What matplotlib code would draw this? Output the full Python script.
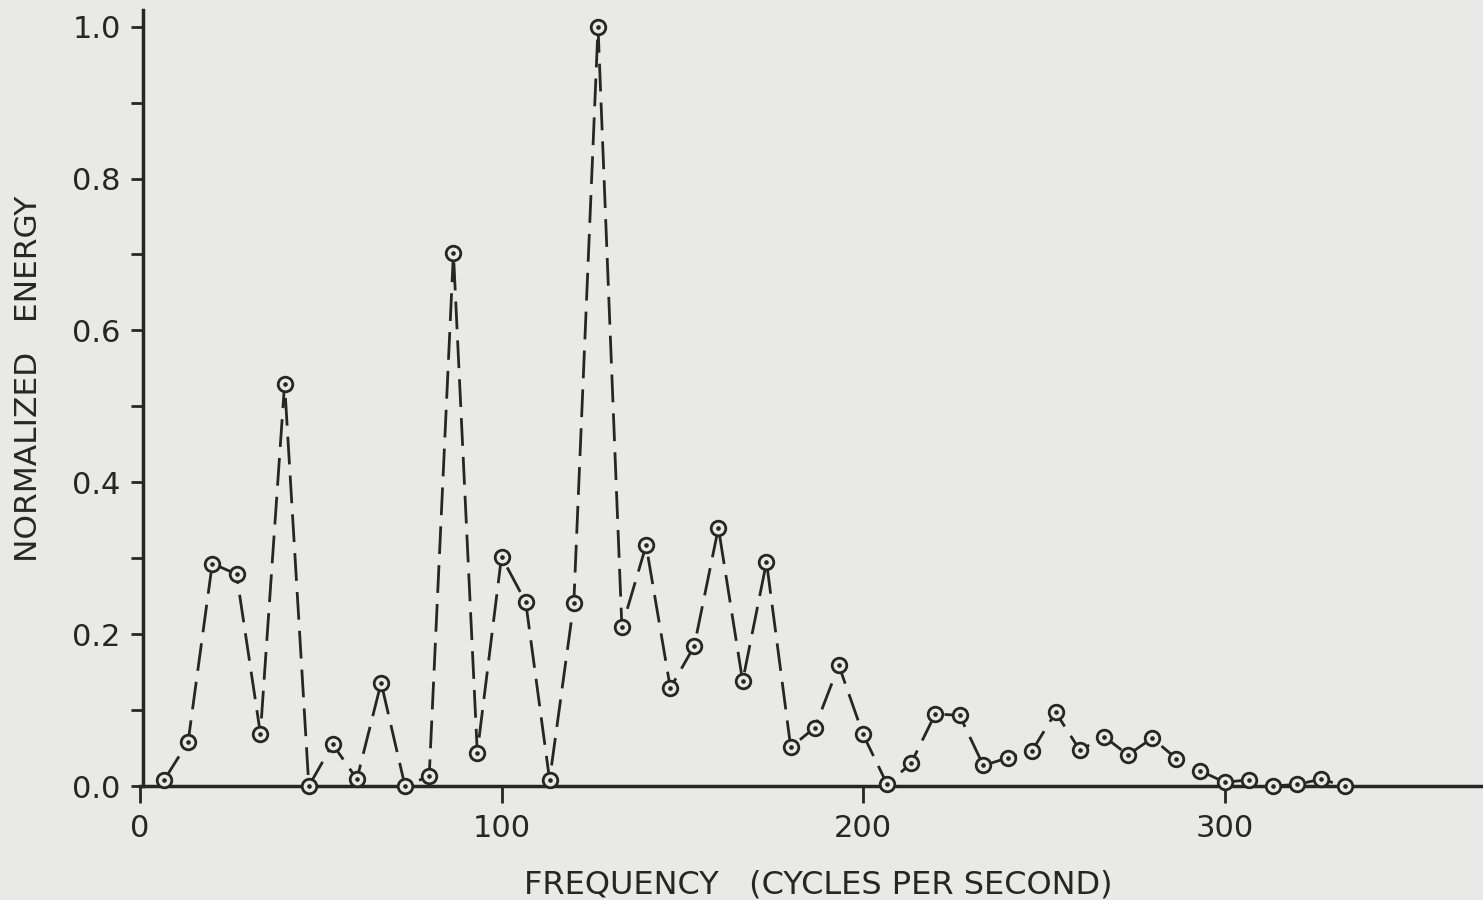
import matplotlib
matplotlib.use("Agg")
import matplotlib.pyplot as plt

# Frequencies (cycles per second) of the plotted points
freq = [6.7, 13.3, 20.0, 26.7, 33.3, 40.0, 46.7, 53.3, 60.0, 66.7,
        73.3, 80.0, 86.7, 93.3, 100.0, 106.7, 113.3, 120.0, 126.7, 133.3,
        140.0, 146.7, 153.3, 160.0, 166.7, 173.3, 180.0, 186.7, 193.3, 200.0,
        206.7, 213.3, 220.0, 226.7, 233.3, 240.0, 246.7, 253.3, 260.0, 266.7,
        273.3, 280.0, 286.7, 293.3, 300.0, 306.7, 313.3, 320.0, 326.7, 333.3]
# Normalized energy
energy = [0.008, 0.058, 0.293, 0.279, 0.069, 0.530, 0.000, 0.055, 0.009, 0.136,
          0.000, 0.013, 0.702, 0.044, 0.302, 0.242, 0.008, 0.241, 1.000, 0.209,
          0.317, 0.129, 0.184, 0.340, 0.138, 0.295, 0.051, 0.077, 0.159, 0.068,
          0.002, 0.030, 0.095, 0.093, 0.027, 0.037, 0.046, 0.097, 0.047, 0.065,
          0.041, 0.063, 0.036, 0.020, 0.005, 0.008, 0.000, 0.002, 0.009, 0.000]

x_ticks = [0, 100, 200, 300]
y_ticks = [0.0, 0.2, 0.4, 0.6, 0.8, 1.0]
y_minor = [0.1, 0.3, 0.5, 0.7, 0.9]

bg = "#e9e9e7"
ink = "#262626"

fig = plt.figure(figsize=(14.83, 9.0), dpi=100, facecolor=bg)
ax = fig.add_axes([140 / 1483, 114 / 900, 1 - 140 / 1483, 776 / 900])
ax.set_facecolor(bg)

ax.plot(freq, energy, color=ink, lw=2.0, dashes=(10, 4), zorder=2, clip_on=False)
ax.plot(freq, energy, linestyle="none", marker="o", ms=10.5, mfc=bg, mec=ink,
        mew=2.0, zorder=3, clip_on=False)
ax.plot(freq, energy, linestyle="none", marker="o", ms=2.3, mfc=ink, mec=ink,
        zorder=4, clip_on=False)

ax.set_xlim(0, 371.5)
ax.set_ylim(0, 1.022)

for s in ["top", "right"]:
    ax.spines[s].set_visible(False)
ax.spines["left"].set_linewidth(2.5)
ax.spines["bottom"].set_linewidth(2.5)
ax.spines["left"].set_color(ink)
ax.spines["bottom"].set_color(ink)
ax.spines["left"].set_position(("data", 0.8))

ax.set_xticks(x_ticks)
ax.set_xticklabels([str(t) for t in x_ticks])
ax.set_yticks(y_ticks)
ax.set_yticklabels([f"{t:.1f}" for t in y_ticks])
ax.set_yticks(y_minor, minor=True)

ax.tick_params(axis="y", which="both", direction="out", length=9, width=2,
               color=ink, labelsize=22, labelcolor=ink, pad=7)
ax.tick_params(axis="x", which="major", direction="out", length=12, width=2,
               color=ink, labelsize=22, labelcolor=ink, pad=8)

ax.set_xlabel("FREQUENCY   (CYCLES PER SECOND)", fontsize=23, color=ink)
ax.xaxis.set_label_coords(0.505, -0.108)
ax.set_ylabel("NORMALIZED   ENERGY", fontsize=22.5, color=ink)
ax.yaxis.set_label_coords(-0.072, 0.525)

fig.savefig("out.png", dpi=100, facecolor=bg)
